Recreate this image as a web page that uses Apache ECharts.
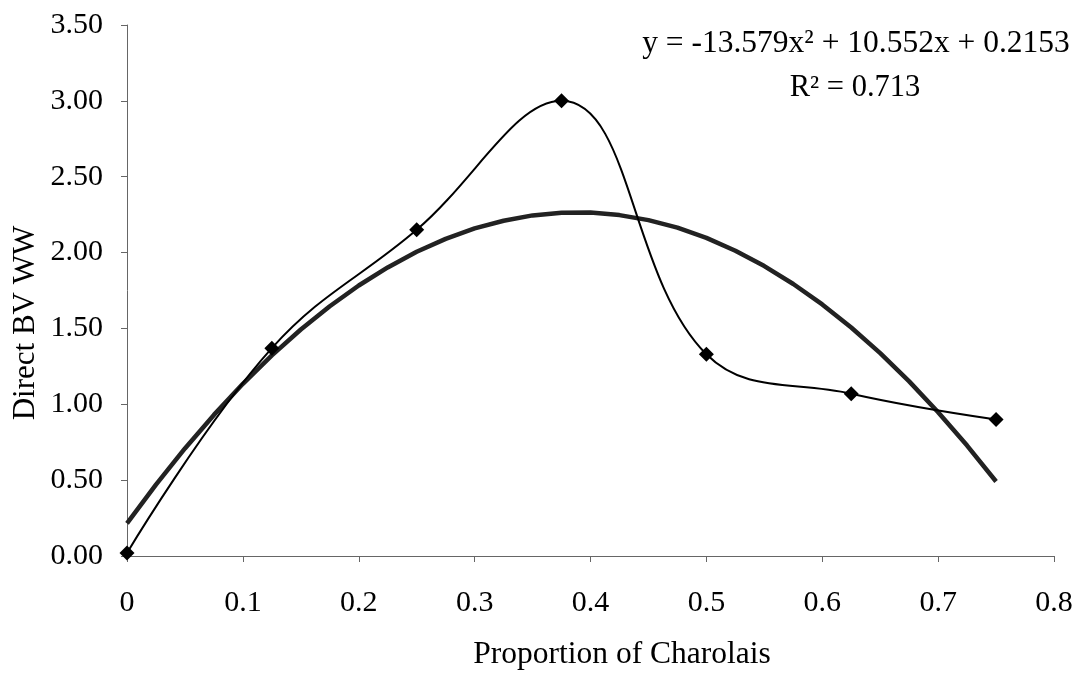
<!DOCTYPE html>
<html>
<head>
<meta charset="utf-8">
<script src="https://cdn.jsdelivr.net/npm/echarts@6/dist/echarts.min.js"></script>
<style>
html,body{margin:0;padding:0;background:#fff;}
#chart{width:1080px;height:674px;}
</style>
</head>
<body>
<div id="chart"></div>
<script>
// Observed data points
const proportion = [0, 0.125, 0.25, 0.375, 0.5, 0.625, 0.75];
const directBV = [0.02, 1.37, 2.15, 3.00, 1.33, 1.07, 0.90];
// Polynomial trendline
const trendX = [0, 0.025, 0.05, 0.075, 0.1, 0.125, 0.15, 0.175, 0.2, 0.225, 0.25, 0.275, 0.3, 0.325, 0.35, 0.375,
                0.4, 0.425, 0.45, 0.475, 0.5, 0.525, 0.55, 0.575, 0.6, 0.625, 0.65, 0.675, 0.7, 0.725, 0.75];
const trendY = [0.215, 0.471, 0.709, 0.930, 1.135, 1.322, 1.493, 1.646, 1.783, 1.902, 2.005, 2.090, 2.159, 2.210, 2.245, 2.263,
                2.264, 2.247, 2.214, 2.164, 2.097, 2.012, 1.911, 1.793, 1.658, 1.506, 1.337, 1.151, 0.948, 0.728, 0.491];
const xTicks = [0, 0.1, 0.2, 0.3, 0.4, 0.5, 0.6, 0.7, 0.8];
const yTicks = [0, 0.5, 1, 1.5, 2, 2.5, 3, 3.5];
const xTitle = 'Proportion of Charolais';
const yTitle = 'Direct BV WW';
const equationText = 'y = -13.579x\u00B2 + 10.552x + 0.2153';
const r2Text = 'R\u00B2 = 0.713';

const font = '"Liberation Serif", "Times New Roman", serif';
const chart = echarts.init(document.getElementById('chart'));
chart.setOption({
  animation: false,
  backgroundColor: '#fff',
  grid: {left: 127, right: 26, top: 25, bottom: 118, containLabel: false, outerBoundsMode: 'none'},
  xAxis: {
    type: 'value', min: xTicks[0], max: xTicks[xTicks.length - 1], interval: 0.1,
    axisLine: {show: true, lineStyle: {color: '#666', width: 1}},
    axisTick: {show: true, inside: false, length: 6, lineStyle: {color: '#666'}},
    axisLabel: {fontFamily: font, fontSize: 30, color: '#000', margin: 32,
      formatter: v => (Math.round(v * 10) / 10).toString()},
    splitLine: {show: false}
  },
  yAxis: {
    type: 'value', min: yTicks[0], max: yTicks[yTicks.length - 1], interval: 0.5,
    axisLine: {show: true, lineStyle: {color: '#666', width: 1}},
    axisTick: {show: true, inside: false, length: 6, lineStyle: {color: '#666'}},
    axisLabel: {fontFamily: font, fontSize: 30, color: '#000', margin: 24,
      formatter: v => v.toFixed(2)},
    splitLine: {show: false}
  },
  series: [
    {
      type: 'line', name: 'trend',
      data: trendX.map((x, i) => [x, trendY[i]]),
      smooth: false, showSymbol: false, symbol: 'none',
      lineStyle: {color: '#222', width: 4.5, join: 'round'}, z: 2
    },
    {
      type: 'line', name: 'data',
      data: proportion.map((x, i) => [x, directBV[i]]),
      smooth: 0.4,
      symbol: 'diamond', symbolSize: 15,
      itemStyle: {color: '#000'},
      lineStyle: {color: '#000', width: 2}, z: 3
    }
  ],
  graphic: [
    {type: 'text', x: 856, y: 44, style: {text: equationText, font: '31.5px ' + font, fill: '#000', textAlign: 'center', textVerticalAlign: 'middle'}},
    {type: 'text', x: 855, y: 88, style: {text: r2Text, font: '30.5px ' + font, fill: '#000', textAlign: 'center', textVerticalAlign: 'middle'}},
    {type: 'text', x: 622, y: 655, style: {text: xTitle, font: '31.5px ' + font, fill: '#000', textAlign: 'center', textVerticalAlign: 'middle'}},
    {type: 'text', x: 26, y: 323, rotation: Math.PI / 2, style: {text: yTitle, font: '31px ' + font, fill: '#000', textAlign: 'center', textVerticalAlign: 'middle'}}
  ]
});
</script>
</body>
</html>
